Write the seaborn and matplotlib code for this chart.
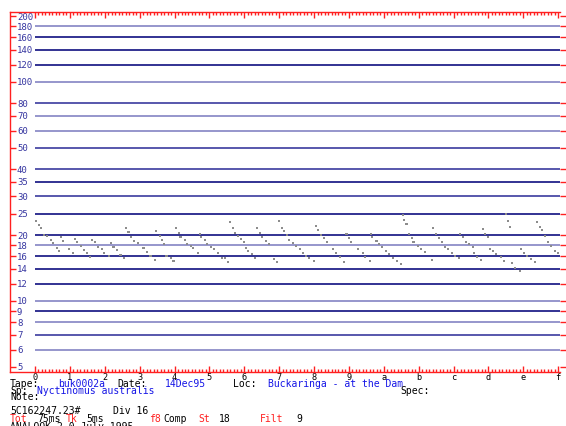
import numpy as np
import pandas as pd
import seaborn as sns
import matplotlib.pyplot as plt
from matplotlib.ticker import FixedLocator, NullLocator

# frequency axis (kHz) and horizontal reference lines
freq_ticks = [200, 180, 160, 140, 120, 100, 80, 70, 60, 50, 40, 35, 30, 25,
              20, 18, 16, 14, 12, 10, 9, 8, 7, 6, 5]
grid_freqs = [180, 160, 140, 120, 100, 80, 70, 60, 50, 40, 35, 30, 25,
              20, 18, 16, 14, 12, 10, 9, 8, 7, 6]
grid_shade = ['light', 'dark', 'dark', 'dark', 'light', 'mid', 'light', 'light',
              'mid', 'mid', 'dark', 'mid', 'dark', 'dark', 'light', 'dark',
              'dark', 'dark', 'light', 'dark', 'light', 'mid', 'light']
time_labels = list('0123456789abcdef')

# call dots: time (divisions) and frequency (kHz)
call_time = [0.03, 0.12, 0.17, 0.26, 0.35, 0.46, 0.52, 0.63, 0.69, 0.75,
             0.81, 0.98, 1.09, 1.15, 1.21, 1.32, 1.41, 1.50, 1.58, 1.64,
             1.73, 1.81, 1.93, 1.99, 2.13, 2.19, 2.25, 2.36, 2.45, 2.56,
             2.62, 2.68, 2.76, 2.85, 2.94, 3.11, 3.20, 3.31, 3.43, 3.48,
             3.57, 3.63, 3.71, 3.77, 3.89, 3.97, 4.03, 4.12, 4.17, 4.29,
             4.35, 4.46, 4.52, 4.66, 4.72, 4.75, 4.87, 4.92, 5.04, 5.12,
             5.24, 5.36, 5.44, 5.53, 5.59, 5.67, 5.73, 5.82, 5.90, 5.99,
             6.05, 6.10, 6.22, 6.30, 6.36, 6.45, 6.51, 6.62, 6.71, 6.85,
             6.94, 7.00, 7.08, 7.14, 7.23, 7.28, 7.40, 7.49, 7.60, 7.69,
             7.77, 7.86, 8.00, 8.06, 8.12, 8.21, 8.29, 8.38, 8.55, 8.64,
             8.75, 8.87, 8.93, 9.01, 9.07, 9.27, 9.39, 9.47, 9.59, 9.62,
             9.67, 9.79, 9.85, 9.96, 10.05, 10.16, 10.25, 10.39, 10.48, 10.54,
             10.59, 10.65, 10.71, 10.80, 10.85, 10.97, 11.06, 11.17, 11.37, 11.40,
             11.49, 11.57, 11.66, 11.75, 11.83, 11.95, 12.03, 12.15, 12.18, 12.26,
             12.35, 12.44, 12.55, 12.58, 12.67, 12.78, 12.84, 12.90, 12.98, 13.04,
             13.13, 13.21, 13.36, 13.44, 13.50, 13.56, 13.62, 13.68, 13.76, 13.91,
             13.93, 14.02, 14.11, 14.22, 14.34, 14.39, 14.48, 14.54, 14.62, 14.71,
             14.80, 14.91, 14.99]
call_freq = [23.2, 22.2, 21.5, 20.0, 19.8, 19.0, 18.4, 17.4, 16.9, 19.6,
             18.8, 17.3, 16.6, 19.2, 18.6, 17.8, 17.1, 16.6, 15.9, 19.0,
             18.6, 17.6, 17.3, 16.6, 16.0, 18.4, 17.6, 17.1, 16.2, 15.7,
             21.5, 20.6, 19.6, 18.8, 18.4, 17.4, 16.7, 16.0, 15.4, 20.9,
             19.8, 19.0, 18.2, 16.0, 15.7, 15.2, 21.5, 20.4, 19.6, 19.0,
             18.2, 17.8, 17.4, 16.6, 20.2, 19.6, 19.0, 18.2, 17.6, 17.3,
             16.6, 15.7, 15.7, 15.1, 22.9, 21.5, 20.4, 19.8, 19.2, 18.6,
             17.4, 16.9, 16.4, 15.7, 21.5, 20.4, 19.6, 18.8, 18.2, 15.5,
             15.1, 23.2, 21.5, 20.9, 20.0, 19.0, 18.4, 17.8, 17.3, 16.6,
             16.0, 15.7, 15.2, 22.0, 21.1, 20.0, 19.4, 18.6, 17.3, 16.6,
             15.9, 15.1, 20.2, 19.4, 18.6, 17.3, 16.6, 15.9, 15.2, 20.2,
             19.6, 18.8, 18.2, 17.6, 16.9, 16.4, 15.7, 15.2, 14.8, 24.7,
             23.4, 22.5, 20.2, 19.4, 18.6, 17.8, 17.3, 16.7, 15.4, 21.5,
             20.2, 19.4, 18.6, 17.6, 17.3, 16.6, 16.0, 15.7, 20.2, 19.6,
             18.6, 18.2, 17.6, 16.6, 15.9, 15.4, 21.3, 20.2, 19.6, 17.3,
             16.9, 16.4, 15.9, 15.2, 24.9, 23.2, 21.8, 14.9, 14.1, 13.7,
             17.3, 16.6, 16.0, 15.5, 15.1, 22.9, 21.8, 21.1, 19.8, 18.6,
             17.8, 16.9, 16.6]

sns.set_theme(style='white')
plt.rcParams['font.family'] = ['DejaVu Sans Mono']

RED = '#ff2020'
BLUE = '#1414e6'
W, H = 566, 426

fig = plt.figure(figsize=(W / 100, H / 100), dpi=100)
fig.patch.set_facecolor('white')
ax = fig.add_axes([10 / W, (H - 372) / H, 550 / W, 360 / H])
ax.set_facecolor('white')

ax.set_yscale('log')
ax.set_xlim(-0.717, 15.05)
ax.set_ylim(4.74, 208.6)

shade_col = {'dark': '#22228a', 'mid': '#4a4aa6', 'light': '#8e8ec8'}
for f, s in zip(grid_freqs, grid_shade):
    ax.hlines(f, 0, 15.05, color=shade_col[s], lw=1.3, zorder=1)

df = pd.DataFrame({'t': call_time, 'f': call_freq})
sns.scatterplot(data=df, x='t', y='f', ax=ax, marker='s', s=2.2,
                color='#8c8c8c', edgecolor='none', linewidth=0, zorder=3)
ax.set_xlabel('')
ax.set_ylabel('')

# frequency ticks: red dashes inside, blue labels to the right of the spine
ax.set_yticks(freq_ticks)
ax.set_yticklabels([str(v) for v in freq_ticks])
ax.yaxis.set_minor_locator(NullLocator())
ax.tick_params(axis='y', which='major', left=True, right=False, direction='in',
               length=4.3, width=1, color=RED, pad=-5, labelsize=6.5,
               labelcolor='#3535a0')
for lbl in ax.get_yticklabels():
    lbl.set_ha('left')

# time ruler on top and bottom
ax.set_xticks(range(16))
ax.set_xticklabels(time_labels)
ax.xaxis.set_minor_locator(FixedLocator(np.arange(0, 15.05, 0.1)))
ax.tick_params(axis='x', which='both', top=True, bottom=True, direction='in',
               color=RED, width=1)
ax.tick_params(axis='x', which='major', length=4.3, labelsize=6.2,
               labelcolor='black', pad=1)
ax.tick_params(axis='x', which='minor', length=2.2)

for side in ['left', 'top', 'bottom']:
    ax.spines[side].set_color(RED)
    ax.spines[side].set_linewidth(1)
ax.spines['right'].set_visible(False)

sec = ax.secondary_yaxis('right')
sec.set_yticks(freq_ticks)
sec.yaxis.set_minor_locator(NullLocator())
sec.tick_params(direction='out', length=4.5, width=1, color=RED,
                labelright=False)
sec.spines['right'].set_visible(False)

# header text block under the display
info = [
    (10, 384, 'Tape:', 'black'), (58, 384, 'buk0002a', BLUE),
    (117, 384, 'Date:', 'black'), (165, 384, '14Dec95', BLUE),
    (233, 384, 'Loc:', 'black'), (268, 384, 'Buckaringa - at the Dam', BLUE),
    (10, 391, 'Sp:', 'black'), (37, 391, 'Nyctinomus australis', BLUE),
    (400, 391, 'Spec:', 'black'),
    (10, 397, 'Note:', 'black'),
    (10, 411, '5C162247.23#', 'black'), (113, 411, 'Div 16', 'black'),
    (10, 419, 'Tot', RED), (37, 419, '75ms', 'black'),
    (66, 419, 'Tk', RED), (86, 419, '5ms', 'black'),
    (149, 419, 'f8', RED), (163, 419, 'Comp', 'black'),
    (198, 419, 'St', RED), (219, 419, '18', 'black'),
    (260, 419, 'Filt', RED), (296, 419, '9', 'black'),
    (10, 427, 'ANALOOK 2.0 July 1995', 'black'),
]
for x, y, s, c in info:
    fig.text(x / W, 1 - y / H, s, color=c, fontsize=7, ha='left',
             va='center', family='DejaVu Sans Mono')

fig.savefig('out.png', dpi=100, facecolor='white')
